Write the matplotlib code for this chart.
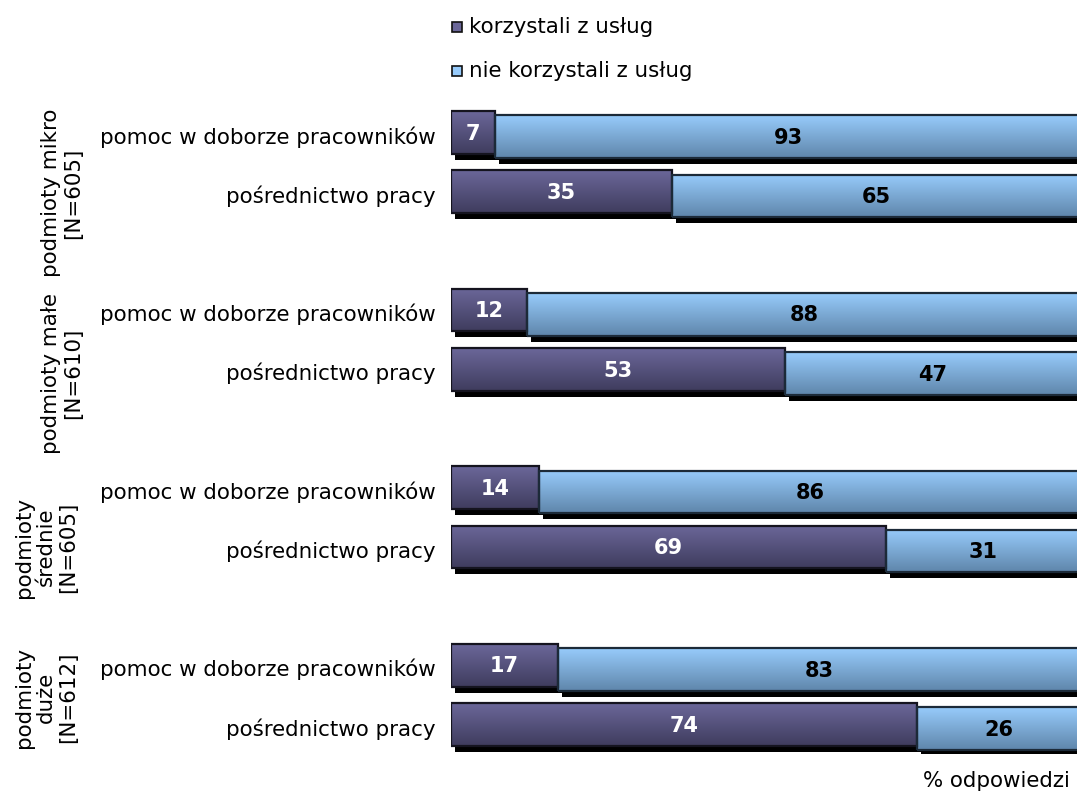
import numpy as np
import matplotlib
matplotlib.use("Agg")
import matplotlib.pyplot as plt
import matplotlib.transforms as mtransforms
from matplotlib.patches import Rectangle
from matplotlib.colors import to_rgb

# survey answers, % of respondents
groups = ["podmioty mikro\n[N=605]", "podmioty małe\n[N=610]",
          "podmioty\nśrednie\n[N=605]", "podmioty\nduże\n[N=612]"]
services = ["pomoc w doborze pracowników", "pośrednictwo pracy"]
used = [7, 35, 12, 53, 14, 69, 17, 74]
not_used = [93, 65, 88, 47, 86, 31, 83, 26]
series_names = ["korzystali z usług", "nie korzystali z usług"]

dark_top, dark_bot = "#6b6799", "#3f3c5e"
light_top, light_bot = "#97cbfb", "#5f86ab"

plt.rcParams["font.family"] = ["DejaVu Sans"]
fs = 15.4

fig = plt.figure(figsize=(10.77, 7.92), dpi=100)
ax = fig.add_axes([451 / 1077, 38 / 792, 630 / 1077, 651 / 792])

bar_h = 0.72
shadow = mtransforms.ScaledTranslation(4 / 100, -6 / 100, fig.dpi_scale_trans)


def gradient_bar(left, width, yc, top, bottom, edge):
    y0, y1 = yc - bar_h / 2, yc + bar_h / 2
    # black drop shadow
    ax.barh(yc, width, height=bar_h, left=left, color="black",
            transform=ax.transData + shadow, zorder=1)
    grad = np.linspace(0, 1, 64)[:, None, None]
    img = (1 - grad) * np.array(to_rgb(top)) + grad * np.array(to_rgb(bottom))
    ax.imshow(img, extent=(left, left + width, y0, y1), origin="upper",
              aspect="auto", interpolation="bilinear", zorder=2)
    ax.add_patch(Rectangle((left, y0), width, bar_h, facecolor="none",
                           edgecolor=edge, linewidth=1.6, zorder=3))


ypos = []
for k in range(len(used)):
    g, i = divmod(k, 2)
    y = 10 - (g * 3 + i)
    ypos.append(y)
    gradient_bar(0, used[k], y, dark_top, dark_bot, "#15141f")
    gradient_bar(used[k], not_used[k], y - 0.07, light_top, light_bot, "#1c2a38")
    ax.text(used[k] / 2, y - 0.02, str(used[k]), ha="center", va="center",
            color="white", fontsize=15, fontweight="bold", zorder=4)
    ax.text(used[k] + not_used[k] / 2, y - 0.09, str(not_used[k]),
            ha="center", va="center", color="black", fontsize=15,
            fontweight="bold", zorder=4)

ax.set_xlim(0, 100)
ax.set_ylim(-0.5, 10.5)
ax.set_yticks([y - 0.04 for y in ypos])
ax.set_yticklabels(services * len(groups), fontsize=fs)
ax.tick_params(axis="y", length=0, pad=11)
ax.set_xticks([])
for s in ax.spines.values():
    s.set_visible(False)

# group labels on the far left
group_pos = [(62, 193), (62, 373), (46, 547), (46, 697)]
for name, (px, py) in zip(groups, group_pos):
    fig.text(px / 1077, 1 - py / 792, name, rotation=90, ha="center",
             va="center", multialignment="center", fontsize=fs,
             linespacing=1.12)

# legend
for j, (name, c) in enumerate(zip(series_names, [dark_top, light_top])):
    cy = 27 + 44 * j
    fig.add_artist(Rectangle((452 / 1077, 1 - (cy + 5) / 792), 10 / 1077, 10 / 792,
                             transform=fig.transFigure, facecolor=c,
                             edgecolor="#111111", linewidth=1.2))
    fig.text(469 / 1077, 1 - cy / 792, name, ha="left", va="center", fontsize=fs)

fig.text(1070 / 1077, 1 - 781 / 792, "% odpowiedzi", ha="right", va="center",
         fontsize=fs)

fig.savefig("out.png", dpi=100)
